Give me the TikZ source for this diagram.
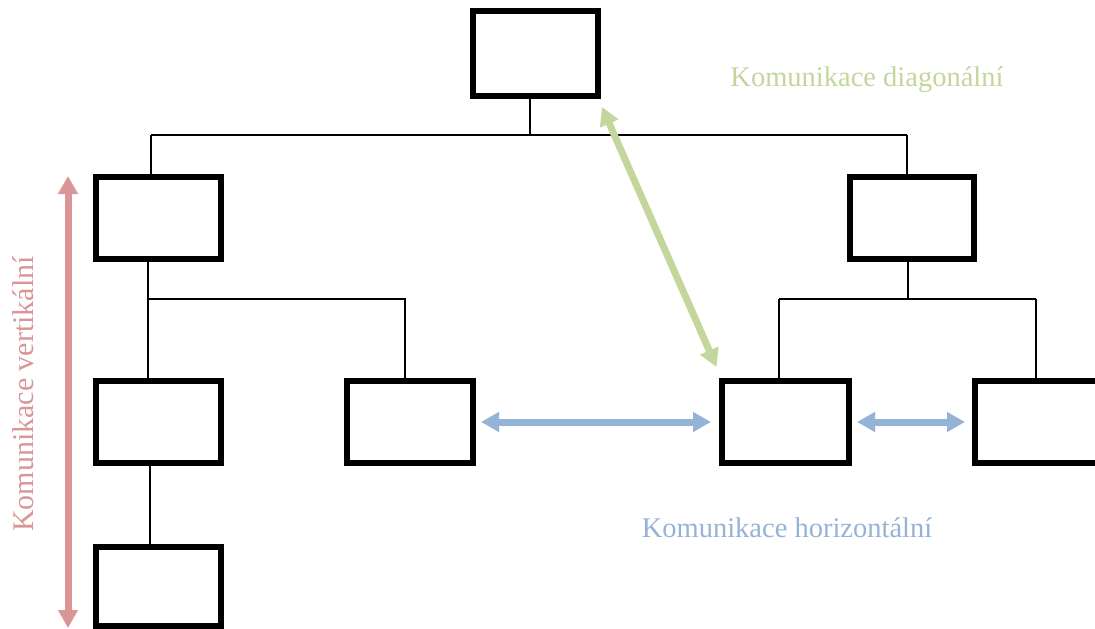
\documentclass[tikz,border=0pt]{standalone}
\usepackage{fontspec}
\setmainfont{Liberation Serif}
\usetikzlibrary{arrows.meta}
\definecolor{vred}{HTML}{D99694}
\definecolor{dgreen}{HTML}{C3D69B}
\definecolor{hblue}{HTML}{95B3D7}
\begin{document}
\begin{tikzpicture}[x=1pt,y=-1pt,
  unit/.style={draw=black,line width=6pt,fill=white,inner sep=0pt,minimum width=125pt,minimum height=82pt},
  link/.style={draw=black,line width=2.5pt},
  comm/.style={line width=7pt,{Triangle[width=19pt,length=18pt]}-{Triangle[width=19pt,length=18pt]}},
  lbl/.style={inner sep=0pt,anchor=base}]
\useasboundingbox (0,0) rectangle (1095,629);
% boxes
\node[unit,minimum height=85pt] (top) at (535.5,53.5) {};
\node[unit] (l1) at (158.5,218) {};
\node[unit,minimum width=124pt] (r1) at (912,218) {};
\node[unit] (ll) at (158.5,422) {};
\node[unit,minimum width=126pt] (lr) at (410,422) {};
\node[unit,minimum width=127pt] (rl) at (785.5,422) {};
\node[unit,minimum width=124pt] (rr) at (1037,422) {};
\node[unit,minimum height=79pt] (bot) at (158.5,586) {};
% junction coordinates
\coordinate (j0) at (530,135);
\coordinate (jl) at (151,135);
\coordinate (jr) at (907,135);
\coordinate (k0) at (148,299);
\coordinate (k1) at (405,299);
\coordinate (m0) at (908,299);
\coordinate (m1) at (779,299);
\coordinate (m2) at (1036,299);
\coordinate (n0) at (150,466);
% tree connectors
\draw[link] (top.south -| j0) -- (j0);
\draw[link] (jl) -- (jr);
\draw[link] (jl) -- (l1.north -| jl);
\draw[link] (jr) -- (r1.north -| jr);
\draw[link] (l1.south -| k0) -- (ll.north -| k0);
\draw[link] (k0) -- (k1) -- (lr.north -| k1);
\draw[link] (r1.south -| m0) -- (m0);
\draw[link] (m1) -- (m2);
\draw[link] (m1) -- (rl.north -| m1);
\draw[link] (m2) -- (rr.north -| m2);
\draw[link] (ll.south -| n0) -- (bot.north -| n0);
% communication arrows
\coordinate (va) at (68,176);
\coordinate (vb) at (68,628);
\draw[comm,vred] (va) -- (vb);
\coordinate (da) at (602,107);
\coordinate (db) at (716.5,367);
\draw[comm,dgreen] (da) -- (db);
\draw[comm,hblue] ([xshift=5pt]lr.east) -- ([xshift=-8pt]rl.west);
\draw[comm,hblue] ([xshift=5pt]rl.east) -- ([xshift=-7pt]rr.west);
% labels
\node[lbl,text=dgreen,font=\fontsize{28.5}{34}\selectfont] (tdiag) at (867,86) {Komunikace diagonální};
\node[lbl,text=hblue,font=\fontsize{28.5}{34}\selectfont] (thor) at (787,537) {Komunikace horizontální};
\node[lbl,text=vred,rotate=90,font=\fontsize{30}{36}\selectfont] (tvert) at (33,394) {Komunikace vertikální};
\end{tikzpicture}
\end{document}
